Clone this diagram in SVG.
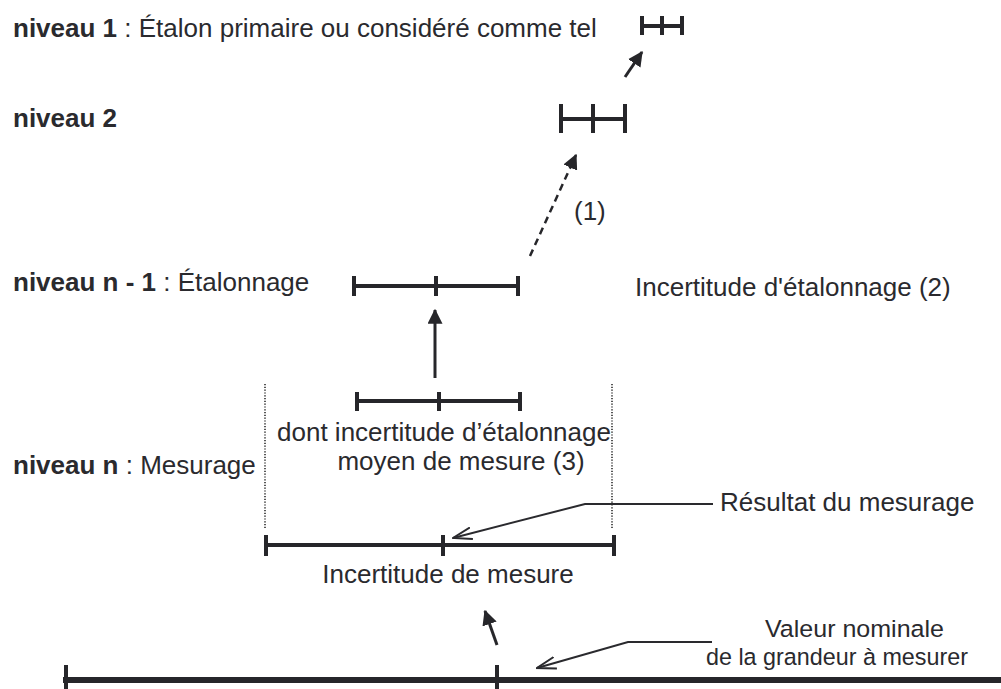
<svg xmlns="http://www.w3.org/2000/svg" width="1001" height="689" viewBox="0 0 1001 689">
<defs>
<style>
text{font-family:"Liberation Sans",Arial,sans-serif;fill:#2a2a2e;font-size:26px}
.b{font-weight:bold}
.nar{font-size:24.5px}
.bar{stroke:#26262a;stroke-width:4;fill:none}
.tick{stroke:#26262a;stroke-width:4}
.thin{stroke:#2a2a2e;stroke-width:2;fill:none}
.dot{stroke:#444;stroke-width:1.8;stroke-dasharray:1.2 1.6;fill:none}
</style>
<marker id="fa" viewBox="0 0 12 12" refX="11" refY="6" markerWidth="15" markerHeight="15" markerUnits="userSpaceOnUse" orient="auto"><path d="M0,0 L12,6 L0,12 z" fill="#26262a"/></marker>
<marker id="oa" viewBox="0 0 20 14" refX="19" refY="7" markerWidth="20" markerHeight="14" markerUnits="userSpaceOnUse" orient="auto"><path d="M0,1 L19,7 L0,13" fill="none" stroke="#2a2a2e" stroke-width="2"/></marker>
</defs>
<rect width="1001" height="689" fill="#fff"/>

<g id="level1">
<text x="13" y="37"><tspan class="b">niveau 1</tspan> : Étalon primaire ou considéré comme tel</text>
<line class="bar" x1="642" y1="26" x2="682" y2="26"/>
<line class="tick" x1="642" y1="16" x2="642" y2="35"/>
<line class="tick" x1="662" y1="16" x2="662" y2="35"/>
<line class="tick" x1="682" y1="16" x2="682" y2="35"/>
</g>

<g id="level2">
<text class="b" x="13" y="127">niveau 2</text>
<line class="bar" x1="561" y1="119" x2="625" y2="119"/>
<line class="tick" x1="561" y1="104" x2="561" y2="133"/>
<line class="tick" x1="593" y1="104" x2="593" y2="133"/>
<line class="tick" x1="625" y1="104" x2="625" y2="133"/>
</g>

<g id="label1"><text x="574" y="220">(1)</text></g>

<g id="levelN1">
<text x="13" y="291"><tspan class="b">niveau n - 1</tspan> : Étalonnage</text>
<line class="bar" x1="354" y1="286" x2="518" y2="286"/>
<line class="tick" x1="354" y1="276" x2="354" y2="296"/>
<line class="tick" x1="436" y1="276" x2="436" y2="296"/>
<line class="tick" x1="518" y1="276" x2="518" y2="296"/>
</g>

<g id="calib2"><text x="635" y="296">Incertitude d'étalonnage (2)</text></g>

<g id="moyen">
<line class="bar" x1="357" y1="401" x2="520" y2="401"/>
<line class="tick" x1="357" y1="392" x2="357" y2="411"/>
<line class="tick" x1="439" y1="392" x2="439" y2="411"/>
<line class="tick" x1="520" y1="392" x2="520" y2="411"/>
<text x="444" y="441" text-anchor="middle">dont incertitude d’étalonnage</text>
<text x="461" y="470" text-anchor="middle">moyen de mesure (3)</text>
</g>

<g id="levelN">
<text x="13" y="474"><tspan class="b">niveau n</tspan> : Mesurage</text>
<line class="dot" x1="265" y1="384" x2="265" y2="528"/>
<line class="dot" x1="612" y1="384" x2="612" y2="528"/>
<line class="bar" x1="266" y1="545" x2="614" y2="545"/>
<line class="tick" x1="266" y1="535" x2="266" y2="556"/>
<line class="tick" x1="443" y1="535" x2="443" y2="556"/>
<line class="tick" x1="614" y1="535" x2="614" y2="556"/>
<text x="448" y="583" text-anchor="middle">Incertitude de mesure</text>
</g>

<g id="resultat"><text x="720" y="511">Résultat du mesurage</text></g>

<g id="nominal">
<line x1="63" y1="680" x2="1001" y2="680" stroke="#26262a" stroke-width="6"/>
<line class="tick" x1="66" y1="665" x2="66" y2="689" stroke-width="5"/>
<line class="tick" x1="497" y1="665" x2="497" y2="689" stroke-width="5"/>
<text class="nar" x="765" y="637" textLength="179" lengthAdjust="spacingAndGlyphs">Valeur nominale</text>
<text class="nar" x="706" y="665" textLength="262" lengthAdjust="spacingAndGlyphs">de la grandeur à mesurer</text>
</g>

<g id="connectors">
<line x1="625" y1="77" x2="642" y2="52" stroke="#26262a" stroke-width="3" marker-end="url(#fa)"/>
<line x1="530" y1="256" x2="576" y2="155" stroke="#26262a" stroke-width="2.5" stroke-dasharray="7 5" marker-end="url(#fa)"/>
<line x1="435" y1="378" x2="435" y2="310" stroke="#26262a" stroke-width="3" marker-end="url(#fa)"/>
<polyline class="thin" points="713,504 585,504 453,538" marker-end="url(#oa)"/>
<line x1="497" y1="645" x2="485" y2="611" stroke="#26262a" stroke-width="3" marker-end="url(#fa)"/>
<polyline class="thin" points="712,642 628,642 537,668" marker-end="url(#oa)"/>
</g>
</svg>
